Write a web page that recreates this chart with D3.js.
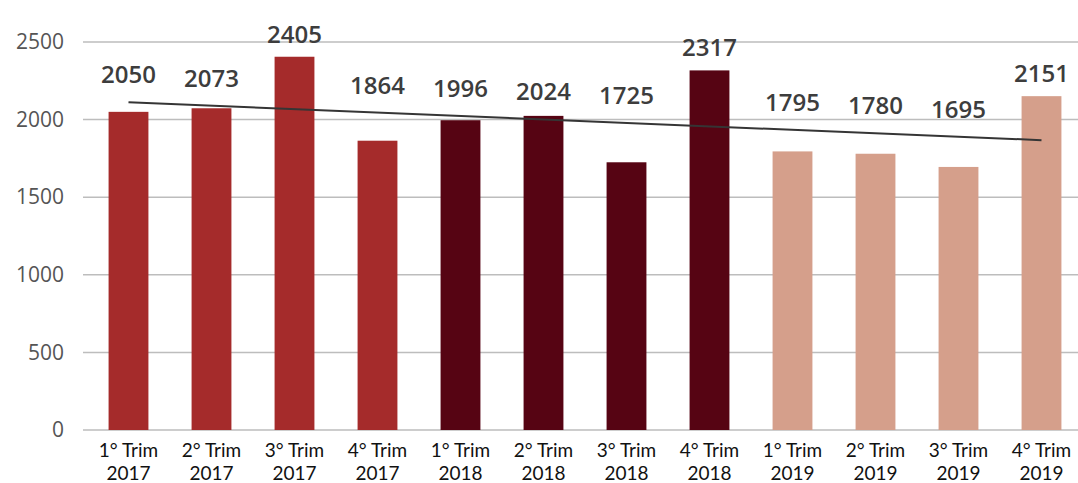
<!DOCTYPE html>
<html>
<head>
<meta charset="utf-8">
<script src="https://cdn.jsdelivr.net/npm/d3@7"></script>
<style>
  html, body { margin: 0; padding: 0; background: #ffffff; }
  svg { display: block; }
</style>
</head>
<body>
<svg id="chart" width="1078" height="483"></svg>
<script>
// Quarterly totals, 2017–2019
const quarters = ["1° Trim", "2° Trim", "3° Trim", "4° Trim",
                  "1° Trim", "2° Trim", "3° Trim", "4° Trim",
                  "1° Trim", "2° Trim", "3° Trim", "4° Trim"];
const years = ["2017", "2017", "2017", "2017",
               "2018", "2018", "2018", "2018",
               "2019", "2019", "2019", "2019"];
const values = [2050, 2073, 2405, 1864, 1996, 2024, 1725, 2317, 1795, 1780, 1695, 2151];
const yTicks = [0, 500, 1000, 1500, 2000, 2500];
const yearColors = { "2017": "#a52b2b", "2018": "#560413", "2019": "#d59f8b" };

const svg = d3.select("#chart");
const idx = d3.range(values.length);

const x = d3.scaleBand().domain(idx).range([87, 1083]).paddingInner(0.52).paddingOuter(0.26);
const y = d3.scaleLinear().domain([0, 2500]).range([430, 42]);

// Horizontal gridlines
svg.append("g")
  .selectAll("line")
  .data(yTicks)
  .join("line")
  .attr("x1", 83).attr("x2", 1078)
  .attr("y1", d => y(d)).attr("y2", d => y(d))
  .attr("stroke", "#bdbdbd")
  .attr("stroke-width", 1.5);

// Y axis labels
const yAxis = d3.axisLeft(y).tickValues(yTicks).tickSize(0).tickPadding(0).tickFormat(d3.format("d"));
svg.append("g")
  .attr("transform", "translate(64,0)")
  .call(yAxis)
  .call(g => g.select(".domain").remove())
  .selectAll("text")
  .attr("font-family", "'Open Sans', sans-serif")
  .attr("font-size", 21)
  .attr("fill", "#555555");

// Bars
svg.append("g")
  .selectAll("rect")
  .data(idx)
  .join("rect")
  .attr("x", i => x(i))
  .attr("width", x.bandwidth())
  .attr("y", i => y(values[i]))
  .attr("height", i => y(0) - y(values[i]))
  .attr("fill", i => yearColors[years[i]]);

// Linear trend (least squares over the quarter index)
const n = values.length;
const mx = d3.mean(idx), my = d3.mean(values);
const slope = d3.sum(idx, i => (i - mx) * (values[i] - my)) / d3.sum(idx, i => (i - mx) ** 2);
const trend = i => my + slope * (i - mx);
const cx = i => x(i) + x.bandwidth() / 2;

svg.append("line")
  .attr("x1", cx(0)).attr("y1", y(trend(0)))
  .attr("x2", cx(n - 1)).attr("y2", y(trend(n - 1)))
  .attr("stroke", "#353535")
  .attr("stroke-width", 2);

// Value labels, lifted above the trend line where a bar falls beneath it
svg.append("g")
  .selectAll("text")
  .data(idx)
  .join("text")
  .attr("x", cx)
  .attr("y", i => Math.min(y(values[i]) - 14, y(trend(i)) - 19))
  .attr("text-anchor", "middle")
  .attr("font-family", "'Open Sans', sans-serif")
  .attr("font-weight", 600)
  .attr("font-size", 24)
  .attr("fill", "#3d3d3d")
  .text(i => values[i]);

// Category labels (quarter / year)
const xl = svg.append("g")
  .selectAll("text")
  .data(idx)
  .join("text")
  .attr("text-anchor", "middle")
  .attr("font-family", "Lato, sans-serif")
  .attr("font-size", 19)
  .attr("fill", "#111111");
xl.append("tspan").attr("x", cx).attr("y", 457).text(i => quarters[i]);
xl.append("tspan").attr("x", cx).attr("y", 480).text(i => years[i]);
</script>
</body>
</html>
